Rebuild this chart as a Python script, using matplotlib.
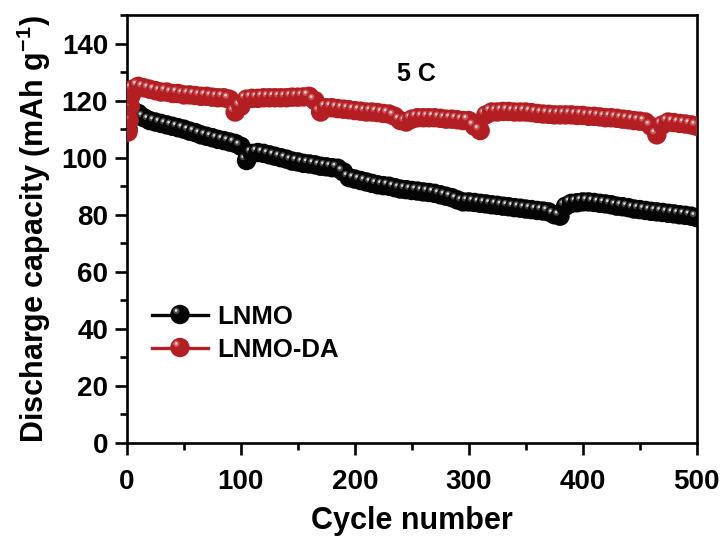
import numpy as np
import matplotlib
matplotlib.use("Agg")
import matplotlib.pyplot as plt
from matplotlib.path import Path
from matplotlib.collections import PathCollection
from matplotlib.transforms import IdentityTransform
from matplotlib.lines import Line2D
from matplotlib.legend_handler import HandlerBase
from matplotlib.ticker import MultipleLocator

plt.rcParams['font.family'] = ['Liberation Sans', 'DejaVu Sans']
plt.rcParams['font.weight'] = 'bold'
plt.rcParams['mathtext.fontset'] = 'custom'
plt.rcParams['mathtext.rm'] = 'Liberation Sans:bold'
plt.rcParams['mathtext.bf'] = 'Liberation Sans:bold'
plt.rcParams['mathtext.it'] = 'Liberation Sans:bold'

# Cycle numbers at which capacities are plotted
cycles = [1, 2, 3, 4] + list(range(5, 501, 5))

# Discharge capacity of LNMO (mAh/g)
lnmo = [110, 113, 115, 116,
        116.5, 115.5, 114, 113, 112.5, 112, 111.5, 111, 110.5, 110,
        109.3, 108.8, 108, 107.5, 107, 106.4, 106, 105.5, 105, 104,
        99, 101.5, 101.8, 101.5, 101, 100.5, 100, 99.5, 98.8, 98.5,
        98, 97.8, 97.5, 97, 96.8, 96.5, 96.3, 95, 93, 92.5,
        92, 91.5, 91, 90.5, 90.2, 90, 89.5, 89, 88.8, 88.5,
        88.3, 88, 87.8, 87.5, 87, 86.5, 86, 85.2, 84.5, 84.5,
        84.3, 84, 83.8, 83.5, 83.3, 83, 82.8, 82.5, 82.3, 82,
        81.8, 81.5, 81.3, 81, 80, 79.5, 83, 84, 84.2, 84.5,
        84.5, 84.3, 84, 83.8, 83.5, 83, 82.8, 82.5, 82, 81.8,
        81.5, 81.2, 81, 80.8, 80.5, 80.3, 80, 79.8, 79.5, 79]

# Discharge capacity of LNMO-DA (mAh/g)
lnmo_da = [109, 113, 118, 122,
           124, 125, 124.5, 124, 123.5, 123, 123, 122.5, 122.5, 122,
           122, 121.8, 121.5, 121.5, 121.2, 121, 121, 120.5, 116, 118,
           120.5, 120.8, 120.8, 121, 121, 121, 121, 121, 121.2, 121.2,
           121.3, 121.5, 120, 116, 117.5, 117.5, 117.2, 117, 116.8, 116.5,
           116.3, 116, 116, 115.8, 115.5, 115.3, 114.5, 113, 112.5, 113.5,
           114, 114, 114, 114, 113.8, 113.5, 113.5, 113.3, 113, 113,
           111, 109.5, 115, 116, 116, 116.2, 116.2, 116, 116, 116,
           115.8, 115.5, 115.3, 115.2, 115, 115, 115, 115, 114.8, 114.8,
           114.5, 114.5, 114.3, 114, 114, 113.8, 113.5, 113.3, 113, 112.8,
           112.5, 111, 108, 111.5, 112.5, 112.3, 112, 111.8, 111.5, 111]

series_names = ['LNMO', 'LNMO-DA']
base_colors = ['#050505', '#b31e23']
mid_colors = ['#4a4a4a', '#cc5558']
spot_colors = ['#d8d8d8', '#f6d2d3']

BALL_R = 7.0  # points


def ball_paths():
    base = Path.circle((0.0, 0.0), BALL_R)
    mid = Path.circle((-2.6, 2.6), 2.3)
    spot = Path.circle((-2.8, 2.9), 1.0)
    return [base, mid, spot]


def ball_collection(xy, idx, offset_transform, zorder=3):
    xy = np.asarray(xy, dtype=float)
    offs = np.repeat(xy, 3, axis=0)
    coll = PathCollection(ball_paths(), sizes=[1.0], offsets=offs,
                          offset_transform=offset_transform,
                          facecolors=[base_colors[idx], mid_colors[idx], spot_colors[idx]],
                          edgecolors='none', linewidths=0, zorder=zorder)
    coll.set_transform(IdentityTransform())
    return coll


class BallHandler(HandlerBase):
    def __init__(self, idx):
        super().__init__()
        self.idx = idx

    def create_artists(self, legend, orig_handle, xdescent, ydescent,
                       width, height, fontsize, trans):
        y = height / 2 - ydescent
        line = Line2D([-xdescent, width - xdescent], [y, y],
                      color=base_colors[self.idx], lw=2.4, transform=trans)
        balls = ball_collection([(width / 2 - xdescent, y)], self.idx, trans)
        return [line, balls]


fig = plt.figure(figsize=(7.25, 5.36), dpi=100)
ax = fig.add_axes([0.175, 0.1735, 0.786, 0.7985])

handles = []
for i, vals in enumerate([lnmo, lnmo_da]):
    ln, = ax.plot(cycles, vals, color=base_colors[i], lw=1.5, zorder=2 + 2 * i,
                  label=series_names[i])
    handles.append(ln)
    coll = ball_collection(np.column_stack([cycles, vals]), i, ax.transData,
                           zorder=2.5 + 2 * i)
    ax.add_collection(coll)

ax.set_xlim(0, 500)
ax.set_ylim(0, 150)
ax.xaxis.set_major_locator(MultipleLocator(100))
ax.xaxis.set_minor_locator(MultipleLocator(50))
ax.yaxis.set_minor_locator(MultipleLocator(10))
ax.set_yticks(range(0, 141, 20))

for s in ax.spines.values():
    s.set_linewidth(1.9)
ax.tick_params(which='major', direction='out', length=8.5, width=1.9,
               labelsize=20)
ax.tick_params(which='minor', direction='out', length=5, width=1.9)
ax.tick_params(axis='x', which='major', pad=10)
ax.tick_params(axis='y', which='major', pad=5)
ax.tick_params(top=False, right=False, which='both')
for lab in ax.get_xticklabels() + ax.get_yticklabels():
    lab.set_fontweight('bold')

ax.set_xlabel('Cycle number', fontsize=22, fontweight='bold', labelpad=8)
ax.set_ylabel(r'Discharge capacity (mAh g$^{-1}$)', fontsize=22,
              fontweight='bold', labelpad=6)

ax.text(254, 129.5, '5 C', fontsize=18, fontweight='bold',
        ha='center', va='center')

leg = ax.legend(handles=handles, labels=series_names,
                handler_map={handles[0]: BallHandler(0), handles[1]: BallHandler(1)},
                loc='center left', bbox_to_anchor=(0.003, 0.257), frameon=False,
                handlelength=2.2, handletextpad=0.35,
                labelspacing=0.35, prop={'weight': 'bold', 'size': 18.5})

fig.savefig('out.png', dpi=100)
